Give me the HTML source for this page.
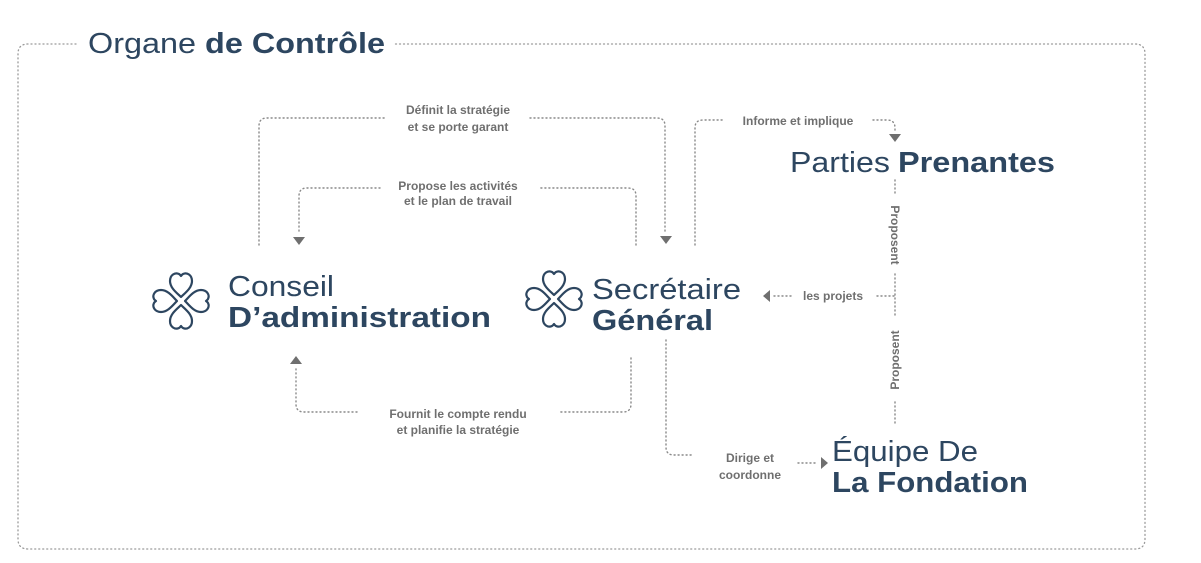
<!DOCTYPE html>
<html><head><meta charset="utf-8"><style>
html,body{margin:0;padding:0;background:#fff;}
svg{display:block;}
.d{fill:none;stroke:#8a8a8a;stroke-width:1.4;stroke-dasharray:1 3;stroke-linecap:round;}
.b{fill:none;stroke:#9a9a9a;stroke-width:1.3;stroke-dasharray:1 3;stroke-linecap:round;}
.l{font-family:"Liberation Sans",sans-serif;font-weight:bold;font-size:12px;fill:#6f6f6f;text-anchor:middle;}
.t{font-family:"Liberation Sans",sans-serif;font-size:29px;fill:#2d4660;}
.tb{font-family:"Liberation Sans",sans-serif;font-size:29px;font-weight:bold;fill:#2d4660;}
.a{fill:#6f6f6f;}
.h{fill:none;stroke:#2d4660;stroke-width:2.2;stroke-linejoin:round;}
</style></head><body>
<svg width="1201" height="563" viewBox="0 0 1201 563" xmlns="http://www.w3.org/2000/svg">
<defs>
<g id="heart"><path d="M0,-4 C-4,-8 -11,-13 -11,-20 C-11,-26 -6,-29 -2,-27 C-1,-26.5 0,-25 0,-25 C0,-25 1,-26.5 2,-27 C6,-29 11,-26 11,-20 C11,-13 4,-8 0,-4Z"/></g>
<g id="clover" class="h"><use href="#heart"/><use href="#heart" transform="rotate(90)"/><use href="#heart" transform="rotate(180)"/><use href="#heart" transform="rotate(270)"/></g>
</defs>
<!-- outer box -->
<path class="b" d="M76,44 H28 Q18,44 18,54 V539 Q18,549 28,549 H1135 Q1145,549 1145,539 V54 Q1145,44 1135,44 H394"/>
<text x="88" y="53" style="font-family:'Liberation Sans',sans-serif;font-size:29px;fill:#2d4660" textLength="297" lengthAdjust="spacingAndGlyphs">Organe <tspan font-weight="bold">de Contrôle</tspan></text>

<!-- Définit -->
<path class="d" d="M259,245 V126 Q259,118 267,118 H385"/>
<path class="d" d="M530,118 H657 Q665,118 665,126 V233"/>
<path class="a" d="M660,236 H672 L666,244Z"/>
<text class="l" x="458" y="114">Définit la stratégie</text>
<text class="l" x="458" y="131">et se porte garant</text>

<!-- Propose -->
<path class="d" d="M636,245 V196 Q636,188 628,188 H540"/>
<path class="d" d="M380,188 H307 Q299,188 299,196 V234"/>
<path class="a" d="M293,237 H305 L299,245Z"/>
<text class="l" x="458" y="190">Propose les activités</text>
<text class="l" x="458" y="205">et le plan de travail</text>

<!-- Fournit -->
<path class="d" d="M631,358 V404 Q631,412 623,412 H560"/>
<path class="d" d="M357,412 H304 Q296,412 296,404 V366"/>
<path class="a" d="M290,364 H302 L296,356Z"/>
<text class="l" x="458" y="418">Fournit le compte rendu</text>
<text class="l" x="458" y="434">et planifie la stratégie</text>

<!-- Informe -->
<path class="d" d="M695,245 V128 Q695,120 703,120 H725"/>
<path class="d" d="M873,120 H887 Q895,120 895,128 V131"/>
<path class="a" d="M889,134 H901 L895,142Z"/>
<text class="l" x="798" y="125">Informe et implique</text>

<!-- Proposent -->
<path class="d" d="M895,180 V196"/>
<path class="d" d="M895,274 V318"/>
<path class="d" d="M895,402 V425"/>
<text class="l" transform="translate(891,235) rotate(90)">Proposent</text>
<text class="l" transform="translate(899,360) rotate(-90)">Proposent</text>
<path class="d" d="M894,296 H876"/>
<text class="l" x="833" y="300">les projets</text>
<path class="d" d="M774,296 H794"/>
<path class="a" d="M770,290 V302 L763,296Z"/>

<!-- Dirige -->
<path class="d" d="M666,340 V447 Q666,455 674,455 H694"/>
<text class="l" x="750" y="462">Dirige et</text>
<text class="l" x="750" y="479">coordonne</text>
<path class="d" d="M798,463 H818"/>
<path class="a" d="M821,457 V469 L828,463Z"/>

<!-- nodes -->
<use href="#clover" transform="translate(181,301)"/>
<use href="#clover" transform="translate(554,299)"/>
<text class="t" x="228" y="296" textLength="106" lengthAdjust="spacingAndGlyphs">Conseil</text>
<text class="tb" x="228" y="327" textLength="263" lengthAdjust="spacingAndGlyphs">D’administration</text>
<text class="t" x="592" y="299" textLength="149" lengthAdjust="spacingAndGlyphs">Secrétaire</text>
<text class="tb" x="592" y="330" textLength="121" lengthAdjust="spacingAndGlyphs">Général</text>
<text class="t" x="790" y="172" textLength="100" lengthAdjust="spacingAndGlyphs">Parties</text>
<text class="tb" x="898" y="172" textLength="157" lengthAdjust="spacingAndGlyphs">Prenantes</text>
<text class="t" x="832" y="461" textLength="146" lengthAdjust="spacingAndGlyphs">Équipe De</text>
<text class="tb" x="832" y="492" textLength="196" lengthAdjust="spacingAndGlyphs">La Fondation</text>
</svg>
</body></html>
